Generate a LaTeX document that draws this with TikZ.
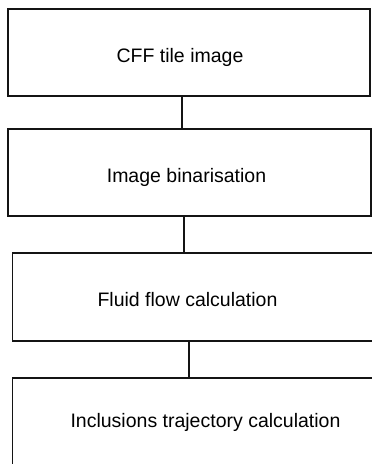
\documentclass[tikz,border=0pt]{standalone}
\usepackage{fontspec}
\setmainfont{Liberation Sans}
\begin{document}
\begin{tikzpicture}[x=1pt,y=-1pt,
  box/.style={draw=black!92, line width=1.4pt, rectangle, inner sep=0pt},
  lbl/.style={anchor=base, inner sep=0pt, font=\fontsize{19.5}{23}\selectfont},
  conn/.style={draw=black!92, line width=1.4pt}]
\useasboundingbox (0,0) rectangle (372,464);
\clip (0,0) rectangle (372,464);
\node[box, minimum width=362pt, minimum height=87pt] (b1) at (189,52.5) {};
\node[box, minimum width=363pt, minimum height=87pt] (b2) at (189.5,172.5) {};
\node[box, minimum width=377pt, minimum height=88pt] (b3) at (201,297) {};
\node[box, minimum width=377pt, minimum height=88pt] (b4) at (201,422) {};
\node[lbl] (t1) at (180,62) {CFF tile image};
\node[lbl] (t2) at (186.5,182) {Image binarisation};
\node[lbl] (t3) at (187.5,306) {Fluid flow calculation};
\node[lbl] (t4) at (205.5,427) {Inclusions trajectory calculation};
\draw[conn] (b1.south -| 182,0) -- (b2.north -| 182,0);
\draw[conn] (b2.south -| 184,0) -- (b3.north -| 184,0);
\draw[conn] (b3.south -| 189,0) -- (b4.north -| 189,0);
\end{tikzpicture}
\end{document}
